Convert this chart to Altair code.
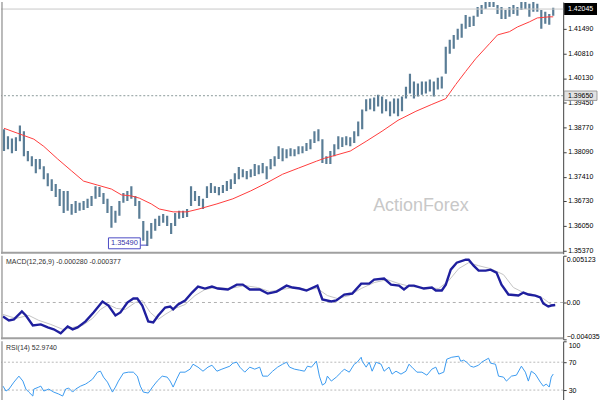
import altair as alt
import pandas as pd

# ---------------- data ----------------
bar_high = [1.3872, 1.3853, 1.3847, 1.3850, 1.3883, 1.3867, 1.3812, 1.3798, 1.3790, 1.3790,
            1.3770, 1.3751, 1.3734, 1.3721, 1.3707, 1.3702, 1.3702, 1.3666, 1.3674, 1.3669,
            1.3674, 1.3680, 1.3688, 1.3715, 1.3713, 1.3696, 1.3680, 1.3660, 1.3647, 1.3674,
            1.3696, 1.3702, 1.3715, 1.3688, 1.3674, 1.3619, 1.3592, 1.3613, 1.3625, 1.3633,
            1.3638, 1.3633, 1.3613, 1.3641, 1.3647, 1.3647, 1.3652, 1.3715, 1.3702, 1.3688,
            1.3680, 1.3715, 1.3724, 1.3715, 1.3713, 1.3718, 1.3729, 1.3734, 1.3751, 1.3768,
            1.3762, 1.3757, 1.3762, 1.3776, 1.3773, 1.3779, 1.3770, 1.3790, 1.3798, 1.3825,
            1.3820, 1.3817, 1.3820, 1.3817, 1.3825, 1.3825, 1.3834, 1.3845, 1.3867, 1.3872,
            1.3845, 1.3798, 1.3812, 1.3831, 1.3853, 1.3850, 1.3853, 1.3850, 1.3867, 1.3894,
            1.3927, 1.3955, 1.3957, 1.3960, 1.3968, 1.3963, 1.3955, 1.3949, 1.3957, 1.3957,
            1.3963, 1.3990, 1.4026, 1.4004, 1.3999, 1.4004, 1.4004, 1.4010, 1.4004, 1.4015,
            1.4018, 1.4100, 1.4120, 1.4133, 1.4150, 1.4164, 1.4188, 1.4183, 1.4186, 1.4210,
            1.4216, 1.4224, 1.4230, 1.4224, 1.4216, 1.4210, 1.4202, 1.4210, 1.4216, 1.4210,
            1.4224, 1.4230, 1.4219, 1.4224, 1.4219, 1.4202, 1.4197, 1.4191, 1.4208]
bar_low = [1.3812, 1.3817, 1.3806, 1.3812, 1.3839, 1.3798, 1.3784, 1.3770, 1.3751, 1.3762,
           1.3734, 1.3715, 1.3702, 1.3685, 1.3660, 1.3641, 1.3647, 1.3636, 1.3641, 1.3647,
           1.3649, 1.3655, 1.3660, 1.3680, 1.3685, 1.3666, 1.3641, 1.3600, 1.3614, 1.3633,
           1.3669, 1.3674, 1.3680, 1.3660, 1.3625, 1.3564, 1.3550, 1.3570, 1.3592, 1.3605,
           1.3614, 1.3605, 1.3583, 1.3605, 1.3625, 1.3627, 1.3630, 1.3660, 1.3674, 1.3660,
           1.3652, 1.3682, 1.3696, 1.3696, 1.3690, 1.3696, 1.3702, 1.3707, 1.3721, 1.3734,
           1.3740, 1.3734, 1.3740, 1.3743, 1.3748, 1.3751, 1.3734, 1.3762, 1.3770, 1.3790,
           1.3784, 1.3792, 1.3798, 1.3798, 1.3803, 1.3806, 1.3812, 1.3817, 1.3834, 1.3839,
           1.3779, 1.3776, 1.3776, 1.3798, 1.3817, 1.3823, 1.3828, 1.3825, 1.3834, 1.3853,
           1.3872, 1.3922, 1.3927, 1.3922, 1.3935, 1.3916, 1.3922, 1.3908, 1.3916, 1.3908,
           1.3922, 1.3957, 1.3971, 1.3957, 1.3963, 1.3968, 1.3971, 1.3977, 1.3963, 1.3982,
           1.3985, 1.4026, 1.4081, 1.4095, 1.4120, 1.4125, 1.4150, 1.4155, 1.4158, 1.4183,
           1.4191, 1.4205, 1.4210, 1.4210, 1.4191, 1.4177, 1.4177, 1.4183, 1.4191, 1.4186,
           1.4202, 1.4205, 1.4183, 1.4197, 1.4197, 1.4150, 1.4164, 1.4161, 1.4186]

ma_idx = [0, 3.5, 7.5, 10, 13.5, 17, 20, 23.5, 27, 29.5, 32, 34, 37, 39, 42.5, 46, 49, 53.5,
          57.5, 62, 66, 70, 74, 78.5, 80.5, 82.5, 87, 91, 95, 99, 103.5, 107.5, 111, 113.5,
          116, 118.5, 122, 124, 127, 129, 132, 134, 137, 138]
ma_val = [1.3875, 1.3861, 1.3845, 1.3825, 1.3790, 1.3757, 1.3729, 1.3718, 1.3707, 1.3691,
          1.3688, 1.3682, 1.3666, 1.3652, 1.3644, 1.3644, 1.3652, 1.3666, 1.3680, 1.3702,
          1.3724, 1.3748, 1.3765, 1.3784, 1.3792, 1.3798, 1.3812, 1.3839, 1.3867, 1.3897,
          1.3922, 1.3941, 1.3957, 1.3996, 1.4032, 1.4067, 1.4109, 1.4133, 1.4142, 1.4155,
          1.4169, 1.4180, 1.4183, 1.4183]

price_ticks = [1.41490, 1.40810, 1.40130, 1.39450, 1.38770, 1.38090, 1.37410, 1.36730,
               1.36050, 1.35370]
last_price = 1.42045
level_price = 1.39650
low_label = "1.35490"

macd_idx = [-0.25, 1.25, 2.5, 4.5, 5.5, 7.25, 9.25, 11, 12.5, 14.25, 16, 17.25, 18.5, 20.5,
            22.5, 24.75, 26.25, 28, 29.25, 31, 32.5, 33.5, 34.75, 36.25, 37.5, 38.75, 40.5,
            41.75, 42.5, 43.75, 45.5, 47.25, 48.75, 50.5, 52.25, 53.75, 56.25, 58.5, 60,
            61.75, 64.25, 66.25, 68.5, 71, 72.5, 74.25, 76, 78.75, 80, 82.25, 83.5, 85.5,
            87.5, 89.75, 91.75, 93, 95.5, 97.25, 99.25, 100.5, 101.75, 103, 105.5, 107.5,
            108.5, 110, 111, 112.25, 113.75, 116, 116.75, 118, 119.25, 121, 122.25, 123.75,
            125, 126.75, 129.25, 130.5, 131.75, 133.5, 134.75, 135.5, 136.75, 137.5, 138.5]
macd_val = [-0.00153, -0.00196, -0.00185, -0.00098, -0.00142, -0.00251, -0.00240, -0.00273,
            -0.00294, -0.00338, -0.00262, -0.00294, -0.00273, -0.00207, -0.00109, 0.00011,
            -0.00033, -0.00142, -0.00109, 0.0, 0.00044, 0.00044, -0.00033, -0.00207, -0.00218,
            -0.00142, -0.00055, -0.00044, -0.00076, -0.00022, 0.00022, 0.00109, 0.00174,
            0.00153, 0.00174, 0.00153, 0.00142, 0.00196, 0.00196, 0.00142, 0.00142, 0.00098,
            0.00120, 0.00185, 0.00164, 0.00153, 0.00131, 0.00185, 0.00033, 0.00011, 0.00022,
            0.00087, 0.00098, 0.00207, 0.00207, 0.00251, 0.00262, 0.00196, 0.00185, 0.00142,
            0.00185, 0.00185, 0.00153, 0.00164, 0.00131, 0.00131, 0.00196, 0.00360, 0.00436,
            0.00469, 0.00469, 0.00403, 0.00349, 0.00349, 0.00360, 0.00327, 0.00196, 0.00087,
            0.00076, 0.00109, 0.00087, 0.00076, 0.00055, -0.00011, -0.00044, -0.00033,
            -0.00028]
signal_idx = [-0.25, 3, 6.25, 8.75, 11.75, 14.75, 17.25, 19.75, 22.25, 24.25, 26.25, 28.25,
              30.5, 33, 34.75, 36.75, 38.75, 40.5, 43, 45.5, 48, 50.5, 53, 56.75, 60.5, 63.75,
              66.75, 69.75, 73, 76.25, 78.75, 81.25, 83.75, 86.75, 89.75, 93, 96.25, 99.25,
              102.25, 105.5, 109.25, 111.75, 114.25, 116.75, 119.25, 122.25, 125.5, 128,
              130.5, 133, 135.5, 138]
signal_val = [-0.00131, -0.00174, -0.00142, -0.00196, -0.00240, -0.00294, -0.00273, -0.00251,
              -0.00174, -0.00076, -0.00022, -0.00065, -0.00076, 0.0, 0.00022, -0.00109,
              -0.00185, -0.00131, -0.00065, -0.00022, 0.00076, 0.00142, 0.00164, 0.00153,
              0.00185, 0.00164, 0.00120, 0.00142, 0.00164, 0.00142, 0.00153, 0.00076, 0.00044,
              0.00076, 0.00153, 0.00218, 0.00251, 0.00207, 0.00174, 0.00164, 0.00153, 0.00240,
              0.00371, 0.00436, 0.00403, 0.00371, 0.00305, 0.00164, 0.00109, 0.00087, 0.00044,
              -0.00038]
macd_ticks = [0.005123, 0.0, -0.004035]
macd_title = "MACD(12,26,9) -0.000280 -0.000377"

rsi_idx = [-0.25, 0.5, 1.25, 2.5, 3.75, 4.75, 5.5, 6.25, 7.25, 7.5, 8.75, 9.25, 10, 11.25,
           12.5, 13.75, 14.75, 15.5, 16.25, 17.25, 18, 19.25, 20.5, 21.25, 22.25, 23.5, 24.25,
           25, 26, 27.25, 28, 28.75, 30, 31.25, 32.5, 33.5, 34.25, 35, 36.25, 37.5, 38.5,
           39.75, 41, 41.75, 42.5, 43.5, 44.25, 45.5, 46.75, 47.5, 48.75, 50, 51.25, 52.25,
           53.5, 54.75, 56.75, 57.5, 58.5, 59.25, 60.5, 61.75, 63, 64.25, 65, 66.25, 67.5,
           68.75, 70, 71, 71.75, 73, 74.25, 75.5, 76.25, 77.25, 78.5, 79.25, 80, 80.75, 81.25,
           82.25, 83.5, 84.75, 85.5, 86.75, 88, 88.75, 89.75, 90, 91, 91.75, 92.5, 93.5, 94.75,
           95.5, 96.75, 97.5, 98.5, 99.75, 101, 101.75, 102.5, 103.75, 105, 106.25, 107.5,
           108.5, 109.25, 110.5, 111.25, 112.5, 114.25, 114.75, 115.5, 116.25, 117.25, 118,
           119.25, 120, 121.75, 122.25, 123.5, 124.25, 125.5, 126.25, 127.5, 128.75, 130, 131,
           131.75, 132.5, 133.5, 134.75, 135.5, 136.25, 137, 137.5, 138]
rsi_val = [35.7, 28.6, 31.4, 41.4, 50.0, 42.9, 31.4, 27.1, 21.4, 31.4, 34.3, 35.7, 28.6, 31.4,
           27.1, 24.3, 21.4, 31.4, 32.9, 27.1, 31.4, 35.7, 38.6, 41.4, 45.7, 55.7, 57.1, 48.6,
           41.4, 27.1, 34.3, 42.9, 54.3, 55.7, 55.7, 50.0, 35.7, 27.1, 25.7, 35.7, 42.9, 50.0,
           48.6, 42.9, 34.3, 47.1, 55.7, 55.7, 60.0, 67.1, 62.9, 57.1, 62.9, 65.7, 57.1, 60.0,
           64.3, 68.6, 70.0, 62.9, 55.7, 62.9, 60.0, 62.9, 50.0, 50.0, 57.1, 62.9, 67.1, 70.0,
           62.9, 60.0, 58.6, 57.1, 64.3, 62.9, 71.4, 50.0, 37.1, 40.0, 50.0, 42.9, 48.6, 55.7,
           60.0, 55.7, 67.1, 70.0, 77.1, 71.4, 62.9, 70.0, 57.1, 70.0, 67.1, 57.1, 62.9, 52.9,
           57.1, 52.9, 57.1, 67.1, 62.9, 55.7, 55.7, 51.4, 60.0, 62.9, 52.9, 55.7, 74.3, 77.1,
           78.6, 71.4, 72.9, 70.0, 64.3, 62.9, 65.7, 70.0, 75.7, 68.6, 67.1, 50.0, 48.6, 42.9,
           50.0, 51.4, 64.3, 55.7, 42.9, 57.1, 52.9, 41.4, 35.7, 38.6, 34.3, 48.6, 52.97]
rsi_ticks = [100, 70, 30]
rsi_levels = [70, 30]
rsi_title = "RSI(14) 52.9740"
watermark = "ActionForex"

# ---------------- frames ----------------
bars_df = pd.DataFrame({"i": list(range(len(bar_high))), "high": bar_high, "low": bar_low})
ma_df = pd.DataFrame({"i": ma_idx, "v": ma_val})
macd_df = pd.DataFrame({"i": macd_idx, "v": macd_val})
sig_df = pd.DataFrame({"i": signal_idx, "v": signal_val})
rsi_df = pd.DataFrame({"i": rsi_idx, "v": rsi_val})
one = pd.DataFrame({"a": [0]})
ptick_df = pd.DataFrame({"p": price_ticks, "t": [f"{v:.5f}" for v in price_ticks]})

FONT = "Liberation Sans"
W = 565
xs = alt.Scale(domain=[-0.75, 140.5], nice=False, zero=False)
ps = alt.Scale(domain=[1.352825, 1.4224], nice=False, zero=False)
ms = alt.Scale(domain=[-0.004035, 0.005123], nice=False, zero=False)
rs = alt.Scale(domain=[10, 100], nice=False, zero=False)


def axis(values, fmt=None, expr=None, pad=2, flush=False, labels=True):
    kw = dict(orient="right", values=values, grid=False, tickSize=3, labelFontSize=7,
              labelFont=FONT, labelColor="#000000", domainColor="#404040",
              tickColor="#404040", labelPadding=pad, title=None, labelFlush=flush,
              labelOverlap=False, labels=labels)
    if fmt:
        kw["format"] = fmt
    if expr:
        kw["labelExpr"] = expr
    return alt.Axis(**kw)


price_axis = axis(price_ticks, labels=False)
macd_axis = axis(macd_ticks, expr="datum.value == 0 ? '0.00' : format(datum.value, '.6f')",
                 pad=0, flush=True)
rsi_axis = axis(rsi_ticks, fmt="d", flush=True)


def PY(field, scale=ps, ax=price_axis):
    return alt.Y(field, type="quantitative", scale=scale, axis=ax)


def PX(field):
    return alt.X(field, type="quantitative", scale=xs, axis=None)


X = PX("i")

# annotation tables (anchored to bar index / price)
hlines_df = pd.DataFrame({"p": [last_price]})
level_df = pd.DataFrame({"p": [level_price]})
wm_df = pd.DataFrame({"i": [104.75], "p": [1.3660], "t": [watermark]})
lowbox_df = pd.DataFrame({"i0": [26.25], "i1": [34.25], "p0": [1.35722], "p1": [1.3542],
                          "ic": [30.25], "pc": [1.3557], "t": [low_label],
                          "ia": [34.25], "ib": [36.0], "pl": [1.3552]})
tag1_df = pd.DataFrame({"p0": [1.4221], "p1": [1.4188], "p": [last_price], "t": ["1.42045"]})
tag2_df = pd.DataFrame({"p0": [1.3978], "p1": [1.3952], "p": [level_price], "t": ["1.39650"]})
zero_df = pd.DataFrame({"v": [0.0]})
lv_df = pd.DataFrame({"v": rsi_levels})
mt_df = pd.DataFrame({"t": [macd_title]})
rt_df = pd.DataFrame({"t": [rsi_title]})

# ---------------- price panel ----------------
p_bars = alt.Chart(bars_df).mark_rule(color="#5a7d96", strokeWidth=2.2, clip=True).encode(
    x=X, y=PY("low"), y2="high:Q")
p_ma = alt.Chart(ma_df).mark_line(color="#ff3b3b", strokeWidth=1, clip=True).encode(
    x=X, y=PY("v"))
p_last = alt.Chart(hlines_df).mark_rule(color="#c8c8c8", strokeWidth=1).encode(y=PY("p"))
p_lvl = alt.Chart(level_df).mark_rule(color="#8a9a9a", strokeWidth=1, strokeDash=[2, 2]).encode(
    y=PY("p"))
p_wm = alt.Chart(wm_df).mark_text(font=FONT, fontSize=18, color="#c8c8c8").encode(
    x=PX("i"), y=PY("p"), text="t:N")
p_lowbox = alt.Chart(lowbox_df).mark_rect(fill="white", stroke="#4b4bc4", strokeWidth=1).encode(
    x=PX("i0"), x2="i1", y=PY("p0"), y2="p1")
p_lowtxt = alt.Chart(lowbox_df).mark_text(font=FONT, fontSize=7.5, color="#3434a8").encode(
    x=PX("ic"), y=PY("pc"), text="t:N")
p_lowcon = alt.Chart(lowbox_df).mark_rule(color="#4b4bc4", strokeWidth=1).encode(
    x=PX("ia"), x2="ib", y=PY("pl"))
p_ticklab = alt.Chart(ptick_df).mark_text(font=FONT, fontSize=7, color="#000000", align="left",
                                          baseline="middle").encode(
    x=alt.value(570), y=PY("p"), text="t:N")
p_box1 = alt.Chart(tag1_df).mark_rect(fill="#000000").encode(
    x=alt.value(566), x2=alt.value(599), y=PY("p0"), y2="p1")
p_txt1 = alt.Chart(tag1_df).mark_text(font=FONT, fontSize=7, color="white").encode(
    x=alt.value(582.5), y=PY("p"), text="t:N")
p_box2 = alt.Chart(tag2_df).mark_rect(fill="#e2e2e2", stroke="#8a8a8a", strokeWidth=0.8).encode(
    x=alt.value(566), x2=alt.value(599), y=PY("p0"), y2="p1")
p_txt2 = alt.Chart(tag2_df).mark_text(font=FONT, fontSize=7, color="#000000").encode(
    x=alt.value(582.5), y=PY("p"), text="t:N")
p_left = alt.Chart(one).mark_rule(color="#8c8c8c", strokeWidth=1.2).encode(
    x=alt.value(1), y=alt.value(0), y2=alt.value(253))
p_sep = alt.Chart(one).mark_rule(color="#a0a0a0", strokeWidth=2).encode(
    x=alt.value(0), x2=alt.value(W), y=alt.value(252))

price_panel = alt.layer(p_bars, p_lvl, p_last, p_wm, p_ma, p_lowcon, p_lowbox, p_lowtxt,
                        p_ticklab, p_box2, p_txt2, p_box1, p_txt1, p_left, p_sep).properties(
    width=W, height=253)

# ---------------- MACD panel ----------------
m_line = alt.Chart(macd_df).mark_line(color="#1f1f9e", strokeWidth=2.4, clip=True).encode(
    x=X, y=PY("v", ms, macd_axis))
m_zero = alt.Chart(zero_df).mark_rule(color="#b0b0b0", strokeWidth=1, strokeDash=[3, 3]).encode(
    y=PY("v", ms, macd_axis))
m_sig = alt.Chart(sig_df).mark_line(color="#c4c4c4", strokeWidth=1, clip=True).encode(
    x=X, y=PY("v", ms, macd_axis))
m_title = alt.Chart(mt_df).mark_text(font=FONT, fontSize=7, color="#303030", align="left",
                                     baseline="middle").encode(
    x=alt.value(5), y=alt.value(6), text="t:N")
m_left = alt.Chart(one).mark_rule(color="#8c8c8c", strokeWidth=1.2).encode(
    x=alt.value(1), y=alt.value(0), y2=alt.value(84))
m_sep = alt.Chart(one).mark_rule(color="#a0a0a0", strokeWidth=2).encode(
    x=alt.value(0), x2=alt.value(W), y=alt.value(83))
macd_panel = alt.layer(m_zero, m_sig, m_line, m_title, m_left, m_sep).properties(
    width=W, height=84)

# ---------------- RSI panel ----------------
r_line = alt.Chart(rsi_df).mark_line(color="#3a9af0", strokeWidth=1, clip=True).encode(
    x=X, y=PY("v", rs, rsi_axis))
r_lv = alt.Chart(lv_df).mark_rule(color="#b8b8b8", strokeWidth=1, strokeDash=[2, 2]).encode(
    y=PY("v", rs, rsi_axis))
r_title = alt.Chart(rt_df).mark_text(font=FONT, fontSize=7, color="#303030", align="left",
                                     baseline="middle").encode(
    x=alt.value(5), y=alt.value(7), text="t:N")
r_left = alt.Chart(one).mark_rule(color="#8c8c8c", strokeWidth=1.2).encode(
    x=alt.value(1), y=alt.value(0), y2=alt.value(63))
rsi_panel = alt.layer(r_lv, r_line, r_title, r_left).properties(width=W, height=63)

chart = alt.vconcat(price_panel, macd_panel, rsi_panel, spacing=0).properties(
    padding=0
).configure_view(stroke=None)

chart.save("out.html", embed_options={"renderer": "svg", "actions": False})
